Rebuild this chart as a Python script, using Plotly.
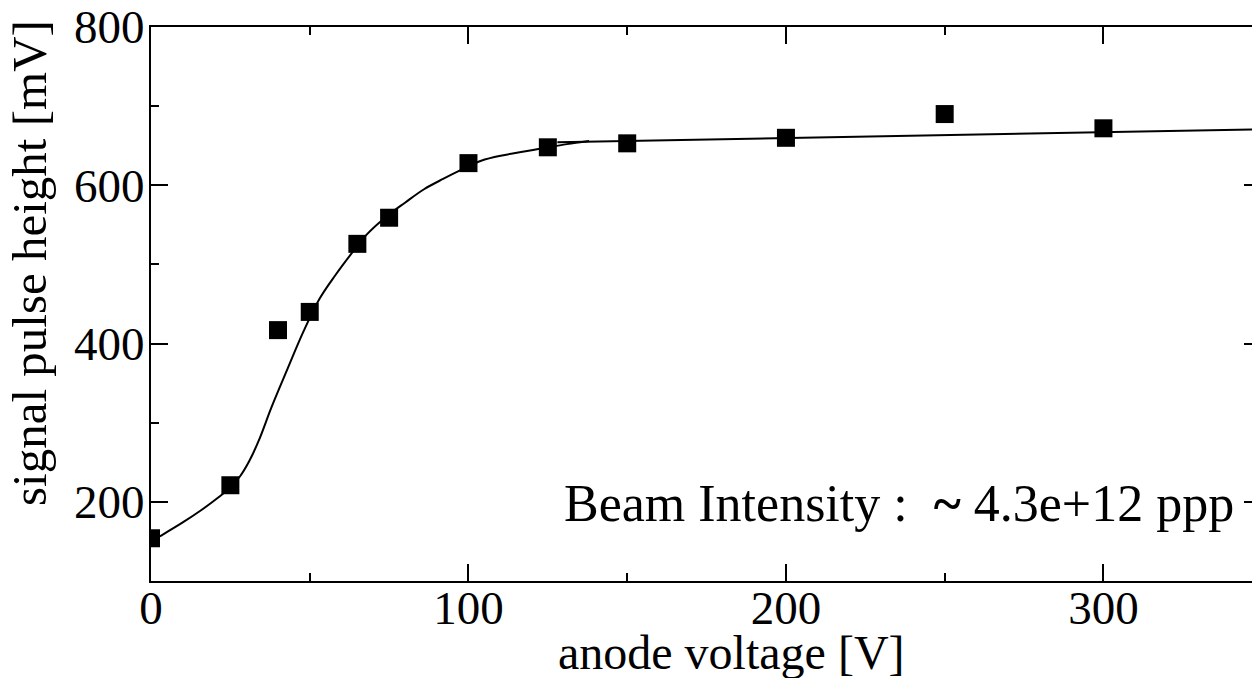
import plotly.graph_objects as go

# measured data points
voltage = [0, 25, 40, 50, 65, 75, 100, 125, 150, 200, 250, 300]
pulse_height = [154, 221, 417, 440, 526, 559, 628, 648, 653, 660, 690, 672]

# fitted curve
fit_curve_x = [0, 3, 10, 16, 22, 25, 28, 31, 34, 38, 43, 48, 53, 58,
               63, 68, 74, 80, 86, 92, 98, 104, 111, 118, 125, 131, 138]
fit_curve_y = [150, 157, 174, 190, 208, 218, 232, 252, 278, 320, 368, 415, 456, 486,
               513, 538, 560, 578, 595, 608, 620, 631, 638, 643, 648, 652, 656]

# linear fit at high voltage
fit_line_x = [128, 350]
fit_line_y = [654.4, 670.7]

x_range = [0, 346.8]
y_range = [100, 800]

annotation_text = "Beam Intensity :  <b>~</b> 4.3e+12 ppp"
x_title = "anode voltage [V]"
y_title = "signal pulse height [mV]"

FONT = "Liberation Serif, Times New Roman, serif"
W, H = 1252, 678
L, R, T, B = 151, 0, 27, 97
PW, PH = W - L - R, H - T - B

fig = go.Figure()
fig.add_trace(go.Scatter(x=fit_curve_x, y=fit_curve_y, mode="lines",
                         line=dict(color="black", width=2, shape="spline", smoothing=1.0),
                         hoverinfo="skip", showlegend=False))
fig.add_trace(go.Scatter(x=fit_line_x, y=fit_line_y, mode="lines",
                         line=dict(color="black", width=2),
                         hoverinfo="skip", showlegend=False))
fig.add_trace(go.Scatter(x=voltage, y=pulse_height, mode="markers",
                         marker=dict(symbol="square", size=18, color="black",
                                     line=dict(width=0)),
                         showlegend=False))
# invisible trace on the right-side axis (for right-hand tick stubs)
fig.add_trace(go.Scatter(x=voltage, y=pulse_height, mode="markers", yaxis="y2",
                         marker=dict(opacity=0), hoverinfo="skip", showlegend=False))

fig.update_layout(
    width=W, height=H,
    margin=dict(l=L, r=R, t=T, b=B, pad=0),
    paper_bgcolor="white", plot_bgcolor="white",
    font=dict(family=FONT, color="black", size=47),
    xaxis=dict(range=x_range, showgrid=False, zeroline=False,
               showline=True, linecolor="black", linewidth=2, mirror="ticks",
               ticks="inside", ticklen=17, tickwidth=2, tickcolor="black",
               tickvals=[0, 100, 200, 300], ticklabelstandoff=-15,
               minor=dict(tickvals=[50, 150, 250], ticks="inside", ticklen=8,
                          tickwidth=2, tickcolor="black"),
               tickfont=dict(size=47, family=FONT)),
    yaxis=dict(range=y_range, showgrid=False, zeroline=False,
               showline=True, linecolor="black", linewidth=2, mirror=False,
               ticks="inside", ticklen=17, tickwidth=2, tickcolor="black",
               tickvals=[200, 400, 600, 800], ticklabelstandoff=-5,
               minor=dict(tickvals=[300, 500, 700], ticks="inside", ticklen=8,
                          tickwidth=2, tickcolor="black"),
               tickfont=dict(size=47, family=FONT)),
    yaxis2=dict(range=y_range, overlaying="y", side="right", showgrid=False,
                zeroline=False, showline=False, showticklabels=False,
                ticks="inside", ticklen=8, tickwidth=2, tickcolor="black",
                tickvals=[200, 400, 600, 800]),
    annotations=[
        dict(text=annotation_text, xref="paper", yref="paper",
             x=(1236 - L) / PW, y=(H - B - 503) / PH, xanchor="right", yanchor="middle",
             showarrow=False, font=dict(size=52, family=FONT, color="black")),
        dict(text=x_title, xref="paper", yref="paper",
             x=(731 - L) / PW, y=(H - B - 652) / PH, xanchor="center", yanchor="middle",
             showarrow=False, font=dict(size=48, family=FONT, color="black")),
        dict(text=y_title, xref="paper", yref="paper", textangle=-90,
             x=(29 - L) / PW, y=(H - B - 263) / PH, xanchor="center", yanchor="middle",
             showarrow=False, font=dict(size=49, family=FONT, color="black")),
    ],
)

fig.write_html("out.html",
               config={"displayModeBar": False},
               post_script="document.body.style.margin='0';"
                           "document.body.style.overflow='hidden';")
